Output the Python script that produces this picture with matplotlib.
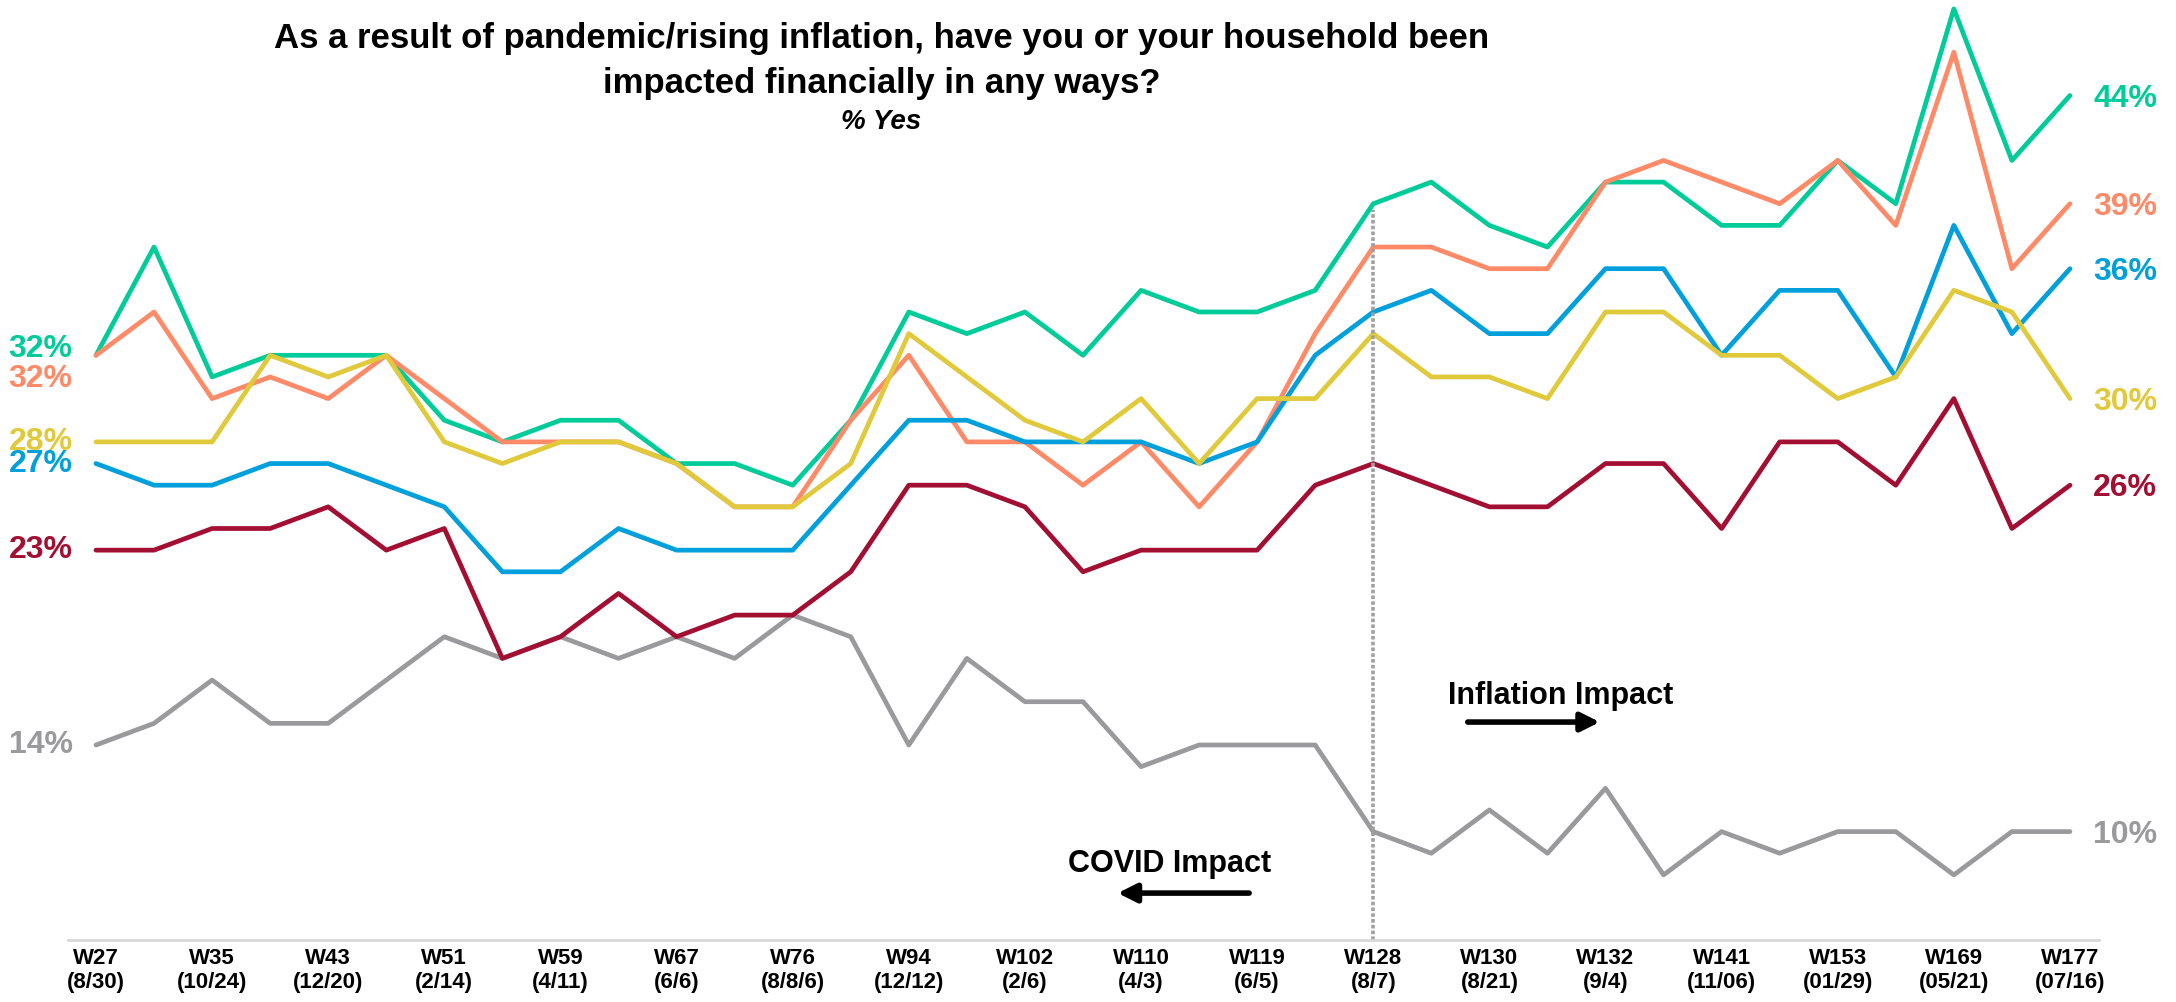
import matplotlib
matplotlib.use("Agg")
import matplotlib.pyplot as plt

plt.rcParams['font.family'] = ['Liberation Sans', 'DejaVu Sans']

# tick labels (one every second wave)
ticks = ["W27\n(8/30)", "W35\n(10/24)", "W43\n(12/20)", "W51\n(2/14)", "W59\n(4/11)",
         "W67\n(6/6)", "W76\n(8/8/6)", "W94\n(12/12)", "W102\n(2/6)", "W110\n(4/3)",
         "W119\n(6/5)", "W128\n(8/7)", "W130\n(8/21)", "W132\n(9/4)", "W141\n(11/06)",
         "W153\n(01/29)", "W169\n(05/21)", "W177\n(07/16)"]

green = [32, 37, 31, 32, 32, 32, 29, 28, 29, 29, 27, 27, 26, 29, 34, 33, 34, 32, 35, 34,
         34, 35, 39, 40, 38, 37, 40, 40, 38, 38, 41, 39, 48, 41, 44]
orange = [32, 34, 30, 31, 30, 32, 30, 28, 28, 28, 27, 25, 25, 29, 32, 28, 28, 26, 28, 25,
          28, 33, 37, 37, 36, 36, 40, 41, 40, 39, 41, 38, 46, 36, 39]
blue = [27, 26, 26, 27, 27, 26, 25, 22, 22, 24, 23, 23, 23, 26, 29, 29, 28, 28, 28, 27,
        28, 32, 34, 35, 33, 33, 36, 36, 32, 35, 35, 31, 38, 33, 36]
yellow = [28, 28, 28, 32, 31, 32, 28, 27, 28, 28, 27, 25, 25, 27, 33, 31, 29, 28, 30, 27,
          30, 30, 33, 31, 31, 30, 34, 34, 32, 32, 30, 31, 35, 34, 30]
red = [23, 23, 24, 24, 25, 23, 24, 18, 19, 21, 19, 20, 20, 22, 26, 26, 25, 22, 23, 23,
       23, 26, 27, 26, 25, 25, 27, 27, 24, 28, 28, 26, 30, 24, 26]
grey = [14, 15, 17, 15, 15, 17, 19, 18, 19, 18, 19, 18, 20, 19, 14, 18, 16, 16, 13, 14,
        14, 14, 10, 9, 11, 9, 12, 8, 10, 9, 10, 10, 8, 10, 10]

series = [
    (grey, "#9A9A9D", 0.0),
    (red, "#A30F33", 0.0),
    (green, "#00CC99", 0.3),
    (orange, "#FF8A68", -1.1),
    (blue, "#00A0DC", 0.0),
    (yellow, "#E0C93A", 0.0),
]

fig = plt.figure(figsize=(21.76, 10.02), dpi=100)
ax = fig.add_axes([0.03125, 0.06202, 0.93336, 0.93559])

x = list(range(len(green)))
for vals, col, off in series:
    ax.plot(x, vals, color=col, lw=3.4, solid_capstyle="round", solid_joinstyle="round")
    ax.text(-0.40, vals[0] + off, f"{vals[0]}%", color=col, fontsize=23,
            fontweight="bold", ha="right", va="center")
    ax.text(34.4, vals[-1] - 0.15, f"{vals[-1]}%", color=col, fontsize=23,
            fontweight="bold", ha="left", va="center")

ax.set_xlim(-0.482, 34.5)
ax.set_ylim(5, 48.3)

# divider at W128
ax.plot([22, 22], [5, 38.7], color="#A0A0A0", lw=2.6, ls=(0, (1, 0.6)))

for s in ["top", "right", "left"]:
    ax.spines[s].set_visible(False)
ax.spines["bottom"].set_color("#D9D9D9")
ax.spines["bottom"].set_linewidth(2)
ax.set_yticks([])
ax.set_xticks(range(0, 35, 2))
ax.set_xticklabels(ticks, fontsize=16, fontweight="bold")
ax.tick_params(axis="x", length=0, pad=6)

ax.text(25.23, 16.26, "Inflation Impact", fontsize=22, fontweight="bold",
        ha="center", va="center")
ax.annotate("", xy=(25.95, 15.06), xytext=(23.58, 15.06),
            arrowprops=dict(arrowstyle="-|>", lw=4, color="black", mutation_scale=28))
ax.text(18.5, 8.5, "COVID Impact", fontsize=22, fontweight="bold",
        ha="center", va="center")
ax.annotate("", xy=(17.55, 7.16), xytext=(19.91, 7.16),
            arrowprops=dict(arrowstyle="-|>", lw=4, color="black", mutation_scale=28))

fig.text(0.405, 0.962, "As a result of pandemic/rising inflation, have you or your household been",
         fontsize=25, fontweight="bold", ha="center", va="center")
fig.text(0.405, 0.917, "impacted financially in any ways?",
         fontsize=25, fontweight="bold", ha="center", va="center")
fig.text(0.405, 0.878, "% Yes", fontsize=20, fontweight="bold", style="italic",
         ha="center", va="center")

fig.savefig("out.png", dpi=100)
